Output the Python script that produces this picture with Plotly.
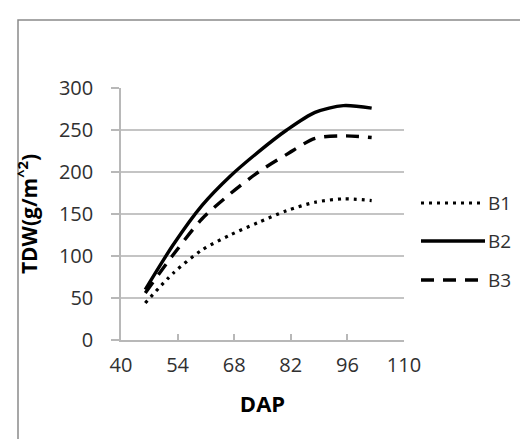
import plotly.graph_objects as go

# ---- data ----
dap = [46, 53, 60, 67, 74, 81, 88, 95, 102]
b1 = [44, 80, 107, 125, 140, 154, 164, 168, 166]
b2 = [60, 114, 160, 195, 224, 250, 271, 279, 276]
b3 = [56, 102, 144, 174, 200, 221, 240, 243, 241]
series_names = ["B1", "B2", "B3"]
series_values = [b1, b2, b3]
x_ticks = [40, 54, 68, 82, 96, 110]
y_ticks = [0, 50, 100, 150, 200, 250, 300]

styles = {
    "B1": dict(color="black", width=3.2, dash="3px,5px"),
    "B2": dict(color="black", width=3.4, dash="solid"),
    "B3": dict(color="black", width=3.4, dash="13px,9px"),
}

FONT = "Open Sans"
TXT = "#303030"
ML, MR, MT, MB = 113, 132, 80, 107
W, H = 528, 439
PW, PH = W - ML - MR, H - MT - MB

def px(X):
    return (X - ML) / PW

def py(Y):
    return (H - MB - Y) / PH

fig = go.Figure()
for name, vals in zip(series_names, series_values):
    fig.add_trace(go.Scatter(
        x=dap, y=vals, mode="lines", name=name,
        line=dict(shape="spline", smoothing=0.8, **styles[name]),
        showlegend=False,
    ))

# manual legend (long samples as in the reference)
legend_rows = {"B1": 195, "B2": 233, "B3": 272}
shapes = []
annotations = []
for name in series_names:
    st = styles[name]
    shapes.append(dict(
        type="line", xref="paper", yref="paper",
        x0=px(413), x1=px(477), y0=py(legend_rows[name]), y1=py(legend_rows[name]),
        line=dict(color=st["color"], width=st["width"], dash=st["dash"]),
    ))
    annotations.append(dict(
        text=name, xref="paper", yref="paper", x=px(478), y=py(legend_rows[name]),
        xanchor="left", yanchor="middle", showarrow=False,
        font=dict(family=FONT, size=19, color=TXT),
    ))

# outer chart border
shapes.append(dict(
    type="rect", xref="paper", yref="paper",
    x0=px(10), x1=px(560), y0=py(470), y1=py(12),
    line=dict(color="#8a8a8a", width=1.5), layer="below",
))

fig.update_layout(
    width=W, height=H,
    margin=dict(l=ML, r=MR, t=MT, b=MB),
    paper_bgcolor="white", plot_bgcolor="white",
    font=dict(family=FONT, color=TXT),
    shapes=shapes, annotations=annotations,
    xaxis=dict(
        range=[40, 110], tickvals=x_ticks, ticktext=[str(v) for v in x_ticks],
        showgrid=False, showline=True, linecolor="#b8b8b8", linewidth=1.5,
        ticks="inside", ticklen=6, tickcolor="#b8b8b8", tickwidth=1.5,
        ticklabelstandoff=6,
        tickfont=dict(family=FONT, size=20, color=TXT),
        title=dict(text="<b>DAP</b>", font=dict(family=FONT, size=22, color="black"), standoff=20),
        zeroline=False,
    ),
    yaxis=dict(
        range=[0, 300], tickvals=y_ticks,
        showgrid=True, gridcolor="#c4c4c4", gridwidth=1.5,
        showline=True, linecolor="#b8b8b8", linewidth=1.5,
        ticks="outside", ticklen=8, tickcolor="#b8b8b8", tickwidth=1.5,
        ticklabelstandoff=14,
        tickfont=dict(family=FONT, size=20, color=TXT),
        title=dict(text="<b>TDW(g/m<sup>^2</sup>)</b>", font=dict(family=FONT, size=21, color="black"), standoff=16),
        zeroline=False,
    ),
)

fig.write_html("out.html")
